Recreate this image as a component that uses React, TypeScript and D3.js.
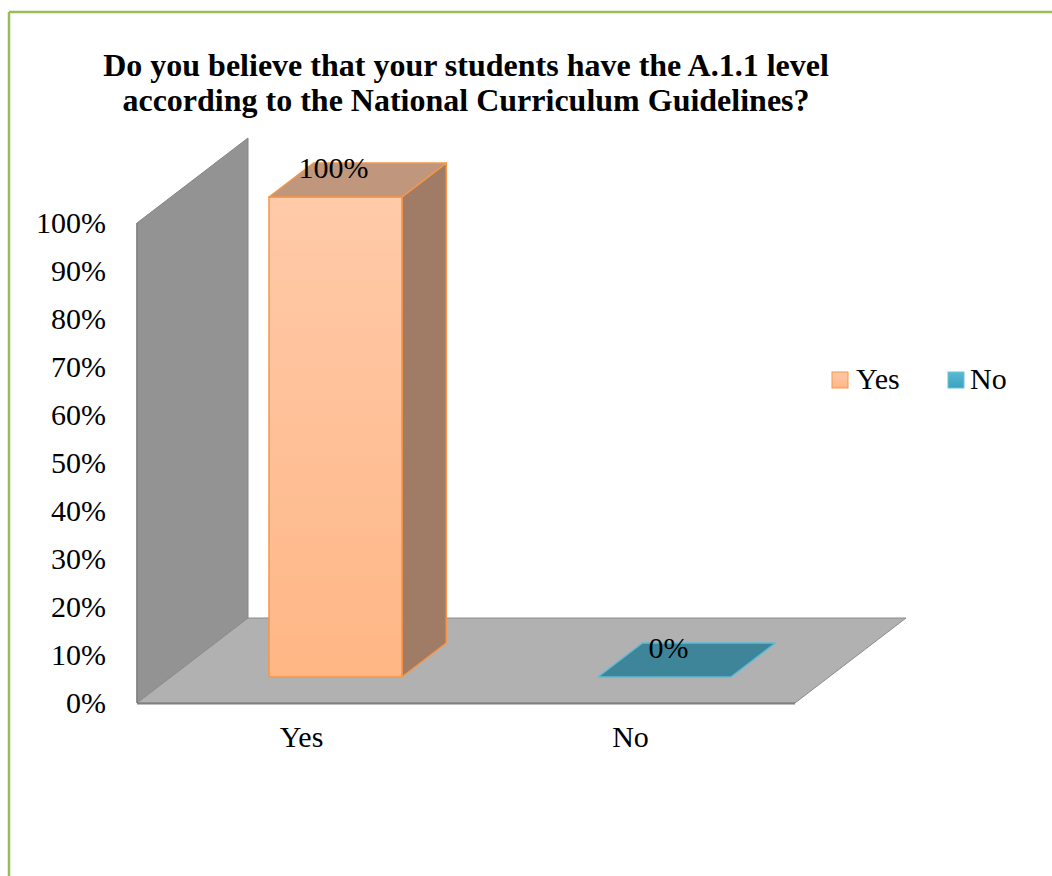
import React from "react";
import * as d3 from "d3";

const categories = ["Yes", "No"];
const values = [1.0, 0.0];
const valueLabels = ["100%", "0%"];
const tickValues = [0, 0.1, 0.2, 0.3, 0.4, 0.5, 0.6, 0.7, 0.8, 0.9, 1.0];
const titleLines = [
  "Do you believe that your students have the A.1.1 level",
  "according to the National Curriculum Guidelines?",
];

const FONT = "'Liberation Serif', 'Times New Roman', serif";

export default function App() {
  const W = 1052;
  const H = 876;
  const x0 = 137;
  const x1 = 795;
  const y = d3.scaleLinear().domain([0, 1]).range([703, 223]);
  const x = d3.scaleBand<string>().domain(categories).range([x0, x1]).padding(0);
  const DX = 111;
  const DY = -85;
  const d0 = 0.306;
  const d1 = 0.706;
  const barRatio = 0.404;

  const pt = (px: number, py: number) => `${px},${py}`;
  const poly = (pts: [number, number][]) => pts.map((p) => pt(p[0], p[1])).join(" ");

  const yBottom = y(0);
  const yTop = y(1);
  const pct = d3.format(".0%");

  const fills = [
    { front: "url(#gYes)", top: "#c0977d", side: "#a07c66", stroke: "#f79646" },
    { front: "#3f8599", top: "#3f8599", side: "#3f8599", stroke: "#5bbcd6" },
  ];

  return (
    <svg width={W} height={H} style={{ display: "block", position: "absolute", left: 0, top: 0 }}>
      <defs>
        <linearGradient id="gYes" x1="0" y1="0" x2="0" y2="1">
          <stop offset="0" stopColor="#ffcaa9" />
          <stop offset="1" stopColor="#ffb685" />
        </linearGradient>
        <linearGradient id="gYesL" x1="0" y1="0" x2="0" y2="1">
          <stop offset="0" stopColor="#ffcaa9" />
          <stop offset="1" stopColor="#ffb685" />
        </linearGradient>
        <linearGradient id="gNoL" x1="0" y1="0" x2="0" y2="1">
          <stop offset="0" stopColor="#5ab9d3" />
          <stop offset="1" stopColor="#3aa3c0" />
        </linearGradient>
      </defs>
      <rect x={0} y={0} width={W} height={H} fill="#ffffff" />
      {/* border */}
      <line x1={9} y1={12} x2={W + 5} y2={12} stroke="#9bbb59" strokeWidth={2.5} />
      <line x1={9} y1={12} x2={9} y2={H + 5} stroke="#9bbb59" strokeWidth={2.5} />

      {/* title */}
      {titleLines.map((t, i) => (
        <text
          key={i}
          x={466}
          y={76 + i * 35}
          textAnchor="middle"
          fontFamily={FONT}
          fontWeight="bold"
          fontSize={32}
          fill="#000"
        >
          {t}
        </text>
      ))}

      {/* back wall */}
      <polygon
        points={poly([
          [x0, yBottom],
          [x0, yTop],
          [x0 + DX, yTop + DY],
          [x0 + DX, yBottom + DY],
        ])}
        fill="#939393"
        stroke="#858585"
        strokeWidth={1}
      />
      {/* floor */}
      <polygon
        points={poly([
          [x0, yBottom],
          [x1, yBottom],
          [x1 + DX, yBottom + DY],
          [x0 + DX, yBottom + DY],
        ])}
        fill="#b1b1b1"
        stroke="#8c8c8c"
        strokeWidth={1}
      />
      <line x1={x0} y1={yBottom + 0.5} x2={x1} y2={yBottom + 0.5} stroke="#808080" strokeWidth={2} />
      <line x1={x0} y1={yTop} x2={x0} y2={yBottom} stroke="#808080" strokeWidth={1.5} />

      {/* bars */}
      {categories.map((c, i) => {
        const bw = x.bandwidth() * barRatio;
        const cx = (x(c) as number) + x.bandwidth() / 2;
        const fxL = cx - bw / 2 + d0 * DX;
        const fxR = fxL + bw;
        const fyB = yBottom + d0 * DY;
        const fyT = y(values[i]) + d0 * DY;
        const ddx = (d1 - d0) * DX;
        const ddy = (d1 - d0) * DY;
        const f = fills[i];
        const h = fyB - fyT;
        return (
          <g key={c}>
            {h > 0 && (
              <>
                <polygon
                  points={poly([
                    [fxR, fyB],
                    [fxR + ddx, fyB + ddy],
                    [fxR + ddx, fyT + ddy],
                    [fxR, fyT],
                  ])}
                  fill={f.side}
                  stroke={f.stroke}
                  strokeWidth={1.5}
                  strokeLinejoin="round"
                />
                <rect x={fxL} y={fyT} width={bw} height={h} fill={f.front} stroke={f.stroke} strokeWidth={1.5} />
              </>
            )}
            <polygon
              points={poly([
                [fxL, fyT],
                [fxR, fyT],
                [fxR + ddx, fyT + ddy],
                [fxL + ddx, fyT + ddy],
              ])}
              fill={f.top}
              stroke={f.stroke}
              strokeWidth={1.5}
              strokeLinejoin="round"
            />
            <text
              x={(fxL + fxR) / 2 - (i === 0 ? 2 : -4)}
              y={fyT - 19}
              textAnchor="middle"
              fontFamily={FONT}
              fontSize={30}
              fill="#000"
            >
              {valueLabels[i]}
            </text>
            <text x={cx} y={747} textAnchor="middle" fontFamily={FONT} fontSize={30} fill="#000">
              {c}
            </text>
          </g>
        );
      })}

      {/* y ticks */}
      {tickValues.map((t) => (
        <text
          key={t}
          x={106}
          y={y(t) + 10}
          textAnchor="end"
          fontFamily={FONT}
          fontSize={30}
          fill="#000"
        >
          {pct(t)}
        </text>
      ))}

      {/* legend */}
      <rect x={832} y={372} width={16} height={16} fill="url(#gYesL)" stroke="#f79646" strokeWidth={1} />
      <text x={856} y={389} fontFamily={FONT} fontSize={30} fill="#000">
        Yes
      </text>
      <rect x={948} y={372} width={16} height={16} fill="url(#gNoL)" stroke="#6cc3da" strokeWidth={1} />
      <text x={970} y={389} fontFamily={FONT} fontSize={30} fill="#000">
        No
      </text>
    </svg>
  );
}
